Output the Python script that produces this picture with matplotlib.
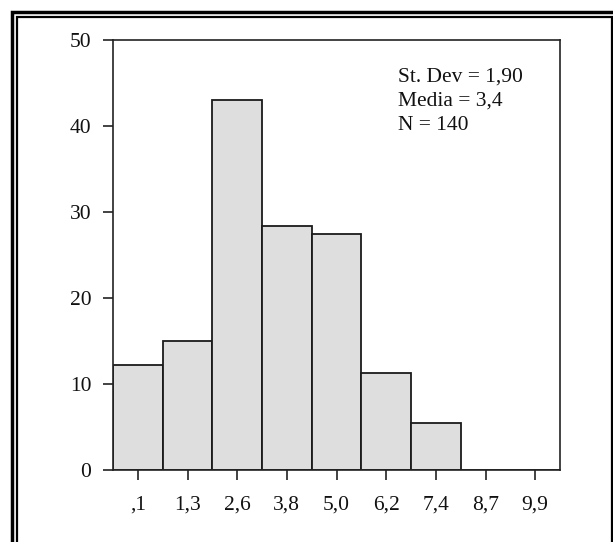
import matplotlib
matplotlib.use("Agg")
import matplotlib.pyplot as plt
from matplotlib.patches import Rectangle

# ---- data ----
bin_labels = [",1", "1,3", "2,6", "3,8", "5,0", "6,2", "7,4", "8,7", "9,9"]
counts = [12.2, 15.0, 43.0, 28.4, 27.4, 11.3, 5.5, 0, 0]
y_ticks = [0, 10, 20, 30, 40, 50]
stats_lines = ["St. Dev = 1,90", "Media = 3,4", "N = 140"]

W, H, DPI = 613, 542, 100
plt.rcParams["font.family"] = ["Liberation Serif", "DejaVu Serif"]

fig = plt.figure(figsize=(W / DPI, H / DPI), dpi=DPI)
fig.patch.set_facecolor("white")

# axes box in pixel coords: x 113..560, y 40..470
ax = fig.add_axes([113 / W, 1 - 470 / H, (560 - 113) / W, (470 - 40) / H])

x = list(range(len(bin_labels)))
ax.bar(
    x,
    counts,
    width=1.0,
    color="#dedede",
    edgecolor="#1a1a1a",
    linewidth=1.3,
)

ax.set_xlim(-0.5, len(bin_labels) - 0.5)
ax.set_ylim(0, 50)
ax.set_xticks(x)
ax.set_xticklabels(bin_labels)
ax.set_yticks(y_ticks)
ax.set_yticklabels([str(v) for v in y_ticks])

ax.tick_params(
    axis="both",
    direction="out",
    length=7.5,
    width=1.2,
    color="#222222",
    labelsize=15.5,
    labelcolor="#111111",
    pad=8,
)
ax.tick_params(axis="x", pad=11)
for sp in ax.spines.values():
    sp.set_linewidth(1.2)
    sp.set_color("#222222")

# stats block
for i, line in enumerate(stats_lines):
    fig.text(
        398 / W,
        1 - (81.5 + i * 24) / H,
        line,
        fontsize=15.5,
        color="#111111",
        ha="left",
        va="baseline",
    )

# double frame around the figure (cropped at right / bottom)
def px_rect(x0, y0, x1, y1, lw):
    r = Rectangle(
        (x0 / W, 1 - y1 / H),
        (x1 - x0) / W,
        (y1 - y0) / H,
        transform=fig.transFigure,
        fill=False,
        edgecolor="black",
        linewidth=lw,
    )
    fig.add_artist(r)


px_rect(12, 11.5, 625, 560, 2.5)
px_rect(17, 16.5, 611.5, 560, 1.6)

fig.savefig("out.png", dpi=DPI)
